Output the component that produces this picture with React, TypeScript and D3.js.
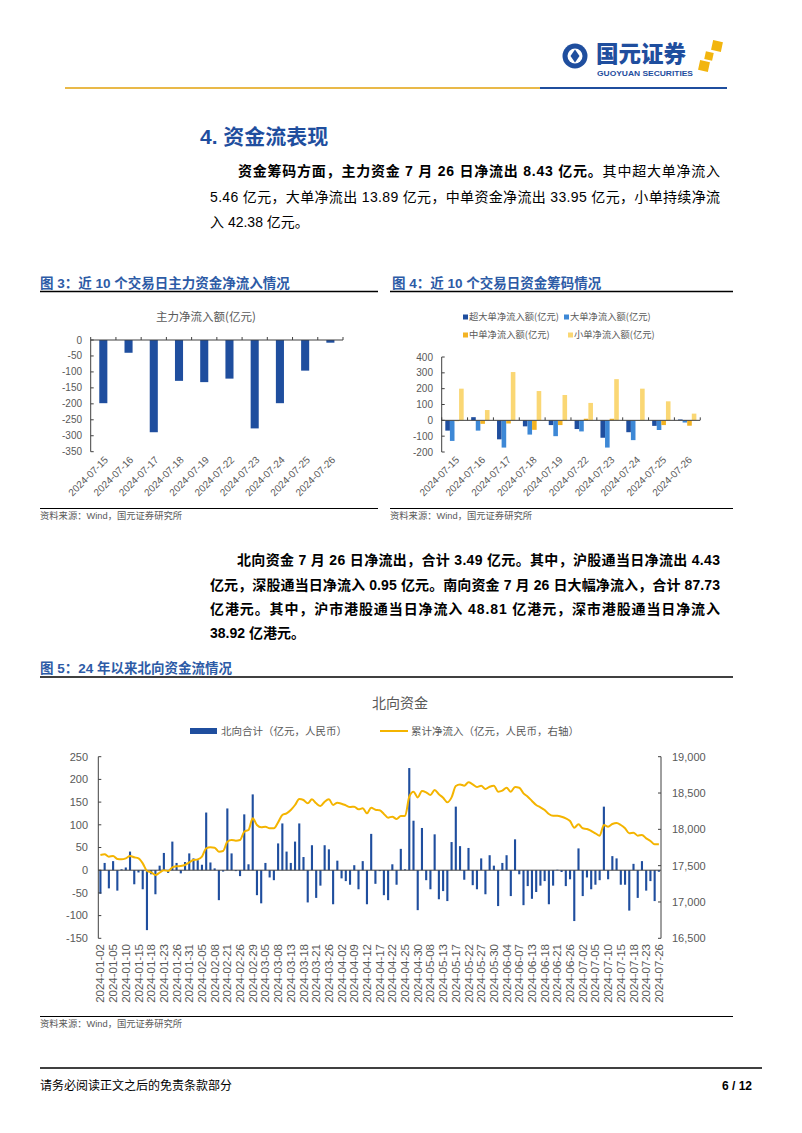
import React from 'react';
import * as d3 from 'd3';

// ---------- data ----------
const days10 = ['2024-07-15','2024-07-16','2024-07-17','2024-07-18','2024-07-19','2024-07-22','2024-07-23','2024-07-24','2024-07-25','2024-07-26'];
const mainFlow = [-198, -40, -289, -128, -132, -121, -277, -198, -96, -8.43];
const superLarge = [-65, 20, -120, -38, -30, -55, -110, -75, -35, 5.46];
const largeOrd = [-130, -65, -172, -90, -100, -70, -172, -125, -61, -13.89];
const mediumOrd = [-5, -22, -20, -60, -30, 10, 10, -3, -30, -33.95];
const smallOrd = [200, 65, 305, 185, 160, 110, 260, 200, 120, 42.38];
const chart3Ticks = [0, -50, -100, -150, -200, -250, -300, -350];
const chart4Ticks = [400, 300, 200, 100, 0, -100, -200];
const series4 = ['超大单净流入额(亿元)', '大单净流入额(亿元)', '中单净流入额(亿元)', '小单净流入额(亿元)'];
const colors4 = ['#1F4E9E', '#3D88D6', '#F3B323', '#FAD774'];

const nbDates = [
  '2024-01-02','2024-01-03','2024-01-04','2024-01-05','2024-01-08','2024-01-09','2024-01-10','2024-01-11','2024-01-12','2024-01-15',
  '2024-01-16','2024-01-17','2024-01-18','2024-01-19','2024-01-22','2024-01-23','2024-01-24','2024-01-25','2024-01-26','2024-01-29',
  '2024-01-30','2024-01-31','2024-02-01','2024-02-02','2024-02-05','2024-02-06','2024-02-07','2024-02-08','2024-02-19','2024-02-20',
  '2024-02-21','2024-02-22','2024-02-23','2024-02-26','2024-02-27','2024-02-28','2024-02-29','2024-03-01','2024-03-04','2024-03-05',
  '2024-03-06','2024-03-07','2024-03-08','2024-03-11','2024-03-12','2024-03-13','2024-03-14','2024-03-15','2024-03-18','2024-03-19',
  '2024-03-20','2024-03-21','2024-03-22','2024-03-25','2024-03-26','2024-03-27','2024-03-28','2024-04-02','2024-04-03','2024-04-08',
  '2024-04-09','2024-04-10','2024-04-11','2024-04-12','2024-04-15','2024-04-16','2024-04-17','2024-04-18','2024-04-19','2024-04-22',
  '2024-04-23','2024-04-24','2024-04-25','2024-04-26','2024-04-29','2024-04-30','2024-05-06','2024-05-07','2024-05-08','2024-05-09',
  '2024-05-10','2024-05-13','2024-05-14','2024-05-16','2024-05-17','2024-05-20','2024-05-21','2024-05-22','2024-05-23','2024-05-24',
  '2024-05-27','2024-05-28','2024-05-29','2024-05-30','2024-05-31','2024-06-03','2024-06-04','2024-06-05','2024-06-06','2024-06-07',
  '2024-06-11','2024-06-12','2024-06-13','2024-06-14','2024-06-17','2024-06-18','2024-06-19','2024-06-20','2024-06-21','2024-06-24',
  '2024-06-25','2024-06-26','2024-06-27','2024-06-28','2024-07-02','2024-07-03','2024-07-04','2024-07-05','2024-07-08','2024-07-09',
  '2024-07-10','2024-07-11','2024-07-12','2024-07-15','2024-07-16','2024-07-17','2024-07-18','2024-07-19','2024-07-22','2024-07-23',
  '2024-07-24','2024-07-25','2024-07-26'
];
const nbFlow = [
  -52, 16, -40, 20, -45, 2, 6, 41, -31, -5,
  -42, -132, -9, -53, 10, 38, -6, 63, 16, -7,
  18, 37, 26, 22, 12, 127, 17, 4, -66, -3,
  136, 37, -2, -13, 123, 13, 167, -55, -73, 16,
  -16, -22, 59, 103, 41, 16, 63, 103, 29, -71,
  55, -61, -34, 55, 46, -75, 21, -18, -24, -32,
  11, -42, 20, -75, 80, -30, -2, -55, -66, 13,
  -32, 47, 2, 225, 109, -88, 93, -22, -42, 79,
  -64, -46, -68, 62, 140, 53, -21, 49, -33, -42,
  26, -53, 33, 10, -79, 16, 33, -57, 68, -9,
  -77, -35, -63, -48, -34, -24, -75, -34, 1, -4,
  -35, -20, -112, 48, -57, -16, -42, -32, -22, 140,
  -20, 31, 26, -32, -32, -89, 14, -61, 20, -45,
  -24, -68, -3.49
];
const nbCum = [
  17647, 17656, 17624, 17633, 17592, 17587, 17601, 17633, 17615, 17601,
  17532, 17427, 17408, 17372, 17404, 17436, 17427, 17477, 17491, 17495,
  17509, 17546, 17578, 17587, 17624, 17739, 17752, 17748, 17693, 17702,
  17830, 17853, 17844, 17853, 17968, 17991, 18151, 18060, 18028, 18037,
  18014, 18014, 18096, 18197, 18220, 18266, 18335, 18417, 18404, 18358,
  18413, 18358, 18321, 18381, 18413, 18335, 18367, 18353, 18330, 18307,
  18312, 18275, 18289, 18220, 18298, 18270, 18262, 18212, 18161, 18174,
  18142, 18183, 18183, 18450, 18518, 18440, 18528, 18509, 18472, 18541,
  18482, 18436, 18372, 18440, 18596, 18619, 18601, 18647, 18619, 18583,
  18601, 18555, 18587, 18601, 18518, 18532, 18573, 18518, 18583, 18573,
  18495, 18450, 18390, 18335, 18303, 18266, 18211, 18188, 18188, 18174,
  18151, 18115, 18023, 18069, 18014, 18005, 17977, 17945, 17913, 18060,
  18037, 18073, 18087, 18060, 18014, 17945, 17954, 17913, 17922, 17876,
  17840, 17794, 17794
];
const leftTicks5 = [250, 200, 150, 100, 50, 0, -50, -100, -150];
const rightTicks5 = [19000, 18500, 18000, 17500, 17000, 16500];

// ---------- styles ----------
const FONT = "'Liberation Sans', 'Noto Sans CJK SC', sans-serif";
const CJK = "'Noto Sans CJK SC', sans-serif";
const BLUE = '#1F4E9E';
const CAP = '#2D5BA6';
const GRAY = '#595959';
const AXIS = '#404040';
const YELLOW = '#F4B400';
const SRC = '资料来源：Wind，国元证券研究所';

function Chart3() {
  const x = d3.scaleBand<string>().domain(days10).range([90.7, 343]).paddingInner(0.68).paddingOuter(0.34);
  const y = d3.scaleLinear().domain([-350, 0]).range([451.7, 340]);
  const step = x.step();
  return (
    <g>
      <text x={40} y={288} fontFamily={FONT} fontWeight={700} fontSize={13.5} fill={CAP}>图 3：近 10 个交易日主力资金净流入情况</text>
      <line x1={40} x2={378} y1={291.5} y2={291.5} stroke="#000" strokeWidth={1.5} />
      <text x={206} y={321} textAnchor="middle" fontFamily={CJK} fontSize={11.5} fill={GRAY}>主力净流入额(亿元)</text>
      {days10.map((d, i) => (
        <rect key={d} x={x(d)} width={x.bandwidth()} y={y(0)} height={y(mainFlow[i]) - y(0)} fill={BLUE} />
      ))}
      <line x1={90.7} x2={90.7} y1={340} y2={451.7} stroke={AXIS} />
      {chart3Ticks.map(t => (
        <g key={t}>
          <line x1={90.7} x2={93.7} y1={y(t)} y2={y(t)} stroke={AXIS} />
          <text x={82} y={y(t)} dy="0.35em" textAnchor="end" fontFamily={FONT} fontSize={10} fill={GRAY}>{t}</text>
        </g>
      ))}
      <line x1={90.7} x2={343} y1={340} y2={340} stroke={AXIS} />
      {d3.range(11).map(i => (
        <line key={i} x1={90.7 + i * step} x2={90.7 + i * step} y1={340} y2={337} stroke={AXIS} />
      ))}
      {days10.map(d => (
        <text key={d} transform={`translate(${x(d)! + x.bandwidth() / 2 + 3},${458}) rotate(-45)`} textAnchor="end" dy="0.35em" fontFamily={FONT} fontSize={10} fill={GRAY}>{d}</text>
      ))}
      <line x1={40} x2={378} y1={508.5} y2={508.5} stroke="#000" strokeWidth={1} />
      <text x={40} y={518.5} fontFamily={FONT} fontSize={9.3} fill={GRAY}>{SRC}</text>
    </g>
  );
}

function Chart4() {
  const x = d3.scaleBand<string>().domain(days10).range([441.7, 700]).paddingInner(0.29).paddingOuter(0.14);
  const inner = d3.scaleBand<number>().domain([0, 1, 2, 3]).range([0, x.bandwidth()]);
  const y = d3.scaleLinear().domain([-200, 400]).range([452, 357]);
  const vals = [superLarge, largeOrd, mediumOrd, smallOrd];
  const step = x.step();
  const legendPos = [[463, 317], [564, 317], [463, 335], [568, 335]];
  return (
    <g>
      <text x={392} y={288} fontFamily={FONT} fontWeight={700} fontSize={13.5} fill={CAP}>图 4：近 10 个交易日资金筹码情况</text>
      <line x1={390} x2={733} y1={291.5} y2={291.5} stroke="#000" strokeWidth={1.5} />
      {series4.map((s, k) => (
        <g key={s}>
          <rect x={legendPos[k][0]} y={legendPos[k][1] - 2.5} width={5} height={5} fill={colors4[k]} />
          <text x={legendPos[k][0] + 6} y={legendPos[k][1]} dy="0.35em" fontFamily={CJK} fontSize={9.3} fill={GRAY}>{s}</text>
        </g>
      ))}
      {days10.map((d, i) => (
        <g key={d}>
          {vals.map((arr, k) => {
            const v = arr[i];
            return <rect key={k} x={x(d)! + inner(k)!} width={inner.bandwidth()} y={Math.min(y(v), y(0))} height={Math.abs(y(v) - y(0))} fill={colors4[k]} />;
          })}
        </g>
      ))}
      <line x1={441.7} x2={441.7} y1={357} y2={452} stroke={AXIS} />
      {chart4Ticks.map(t => (
        <g key={t}>
          <line x1={441.7} x2={444.7} y1={y(t)} y2={y(t)} stroke={AXIS} />
          <text x={433} y={y(t)} dy="0.35em" textAnchor="end" fontFamily={FONT} fontSize={10} fill={GRAY}>{t}</text>
        </g>
      ))}
      <line x1={441.7} x2={700} y1={y(0)} y2={y(0)} stroke={AXIS} />
      {d3.range(11).map(i => (
        <line key={i} x1={441.7 + i * step} x2={441.7 + i * step} y1={y(0)} y2={y(0) - 3} stroke={AXIS} />
      ))}
      {days10.map(d => (
        <text key={d} transform={`translate(${x(d)! + x.bandwidth() / 2 + 3},${458}) rotate(-45)`} textAnchor="end" dy="0.35em" fontFamily={FONT} fontSize={10} fill={GRAY}>{d}</text>
      ))}
      <line x1={390} x2={733} y1={508.5} y2={508.5} stroke="#000" strokeWidth={1} />
      <text x={390} y={518.5} fontFamily={FONT} fontSize={9.3} fill={GRAY}>{SRC}</text>
    </g>
  );
}

function Chart5() {
  const x = d3.scaleBand<string>().domain(nbDates).range([98.3, 661]).paddingInner(0.5).paddingOuter(0.25);
  const yL = d3.scaleLinear().domain([-150, 250]).range([938.3, 756.7]);
  const yR = d3.scaleLinear().domain([16500, 19000]).range([938.3, 756.7]);
  const cx = (d: string) => x(d)! + x.bandwidth() / 2;
  const line = d3.line<number>().x((_, i) => cx(nbDates[i])).y(v => yR(v)).curve(d3.curveMonotoneX);
  return (
    <g>
      <text x={40} y={673} fontFamily={FONT} fontWeight={700} fontSize={13.5} fill={CAP}>图 5：24 年以来北向资金流情况</text>
      <line x1={40} x2={733} y1={677} y2={677} stroke="#000" strokeWidth={1.5} />
      <text x={400} y={708} textAnchor="middle" fontFamily={CJK} fontSize={14} fill={GRAY}>北向资金</text>
      <rect x={190} y={728} width={27} height={6} fill={BLUE} />
      <text x={221} y={731} dy="0.35em" fontFamily={CJK} fontSize={10.5} fill={GRAY}>北向合计（亿元，人民币）</text>
      <line x1={380} x2={408} y1={731} y2={731} stroke={YELLOW} strokeWidth={2} />
      <text x={411} y={731} dy="0.35em" fontFamily={CJK} fontSize={10.5} fill={GRAY}>累计净流入（亿元，人民币，右轴）</text>
      {nbDates.map((d, i) => (
        <rect key={d} x={x(d)} width={x.bandwidth()} y={Math.min(yL(nbFlow[i]), yL(0))} height={Math.abs(yL(nbFlow[i]) - yL(0))} fill={BLUE} />
      ))}
      <line x1={98.3} x2={661} y1={yL(0)} y2={yL(0)} stroke={AXIS} />
      <path d={line(nbCum)!} fill="none" stroke={YELLOW} strokeWidth={2} />
      <line x1={98.3} x2={98.3} y1={756.7} y2={938.3} stroke={AXIS} />
      {leftTicks5.map(t => (
        <g key={t}>
          <line x1={98.3} x2={101.3} y1={yL(t)} y2={yL(t)} stroke={AXIS} />
          <text x={88} y={yL(t)} dy="0.35em" textAnchor="end" fontFamily={FONT} fontSize={11} fill={GRAY}>{t}</text>
        </g>
      ))}
      <line x1={661} x2={661} y1={756.7} y2={938.3} stroke={AXIS} />
      {rightTicks5.map(t => (
        <g key={t}>
          <line x1={658} x2={661} y1={yR(t)} y2={yR(t)} stroke={AXIS} />
          <text x={672} y={yR(t)} dy="0.35em" fontFamily={FONT} fontSize={11} fill={GRAY}>{d3.format(',')(t)}</text>
        </g>
      ))}
      {nbDates.filter((_, i) => i % 3 === 0).map(d => (
        <text key={d} transform={`translate(${cx(d)},${944}) rotate(-90)`} textAnchor="end" dy="0.35em" fontFamily={FONT} fontSize={11.5} fill={GRAY}>{d}</text>
      ))}
      <line x1={40} x2={733} y1={1016.5} y2={1016.5} stroke="#000" strokeWidth={1} />
      <text x={40} y={1026.5} fontFamily={FONT} fontSize={9.3} fill={GRAY}>{SRC}</text>
    </g>
  );
}

function Header() {
  return (
    <g>
      <circle cx={575} cy={56} r={12.5} fill={BLUE} />
      <circle cx={575} cy={56} r={7.5} fill="#fff" />
      <path d="M570.5 56 L575 49.5 L579.5 56 L575 62.5 Z" fill={BLUE} />
      <text x={596} y={62} fontFamily={CJK} fontWeight={900} fontSize={22.5} fill={BLUE}>国元证券</text>
      <text x={597} y={75.5} fontFamily={FONT} fontWeight={700} fontSize={8} fill={BLUE} textLength={96} lengthAdjust="spacingAndGlyphs">GUOYUAN SECURITIES</text>
      <rect x={712} y={41} width={10} height={10} fill="#F2B50F" transform="rotate(12 717 46)" />
      <rect x={705} y={52} width={8} height={8} fill="#F2B50F" transform="rotate(12 709 56)" />
      <rect x={699} y={61} width={10} height={10} fill="#F2B50F" transform="rotate(12 704 66)" />
      <line x1={65} x2={540} y1={88} y2={88} stroke="#E9B949" strokeWidth={2} />
      <line x1={540} x2={727} y1={88} y2={88} stroke={BLUE} strokeWidth={2} />
    </g>
  );
}

function Body() {
  return (
    <g fontFamily={FONT} fill="#000">
      <text x={200} y={144} fontSize={21} fontWeight={700} fill={BLUE}>4. 资金流表现</text>
      <text x={238} y={176} fontSize={14} textLength={482} lengthAdjust="spacing">
        <tspan fontWeight={700}>资金筹码方面，主力资金 7 月 26 日净流出 8.43 亿元。</tspan>
        <tspan>其中超大单净流入</tspan>
      </text>
      <text x={210} y={202} fontSize={14} textLength={510} lengthAdjust="spacing">5.46 亿元，大单净流出 13.89 亿元，中单资金净流出 33.95 亿元，小单持续净流</text>
      <text x={210} y={227} fontSize={14}>入 42.38 亿元。</text>

      <text x={237} y={565} fontSize={14} fontWeight={700} textLength={483} lengthAdjust="spacing">北向资金 7 月 26 日净流出，合计 3.49 亿元。其中，沪股通当日净流出 4.43</text>
      <text x={210} y={590} fontSize={14} fontWeight={700} textLength={510} lengthAdjust="spacing">亿元，深股通当日净流入 0.95 亿元。南向资金 7 月 26 日大幅净流入，合计 87.73</text>
      <text x={210} y={614} fontSize={14} fontWeight={700} textLength={510} lengthAdjust="spacing">亿港元。其中，沪市港股通当日净流入 48.81 亿港元，深市港股通当日净流入</text>
      <text x={210} y={638} fontSize={14} fontWeight={700}>38.92 亿港元。</text>
    </g>
  );
}

function Footer() {
  return (
    <g>
      <line x1={40} x2={762} y1={1068} y2={1068} stroke="#000" strokeWidth={1.5} />
      <text x={40} y={1090} fontFamily={CJK} fontSize={12} fill="#000">请务必阅读正文之后的免责条款部分</text>
      <text x={752} y={1090} textAnchor="end" fontFamily={FONT} fontWeight={700} fontSize={12} fill="#000">6 / 12</text>
    </g>
  );
}

export default function App() {
  return (
    <svg width={802} height={1133} viewBox="0 0 802 1133" style={{ position: 'absolute', left: 0, top: 0, background: '#fff' }}>
      <rect width={802} height={1133} fill="#fff" />
      <Header />
      <Body />
      <Chart3 />
      <Chart4 />
      <Chart5 />
      <Footer />
    </svg>
  );
}
